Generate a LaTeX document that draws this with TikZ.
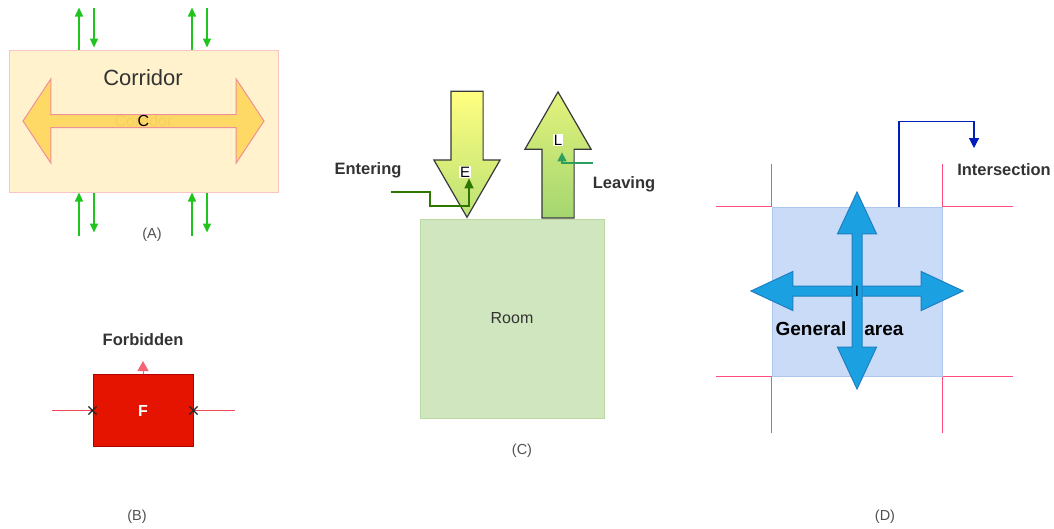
\documentclass[tikz,border=0pt]{standalone}
\usepackage{fontspec}
\setmainfont{Liberation Sans}
\usepackage{tikz}
\usetikzlibrary{arrows.meta,positioning,shapes.arrows,shapes.misc,calc}
\definecolor{corrfill}{HTML}{FFF2CC}
\definecolor{corrline}{HTML}{F8C4C4}
\definecolor{arrfill}{HTML}{FFD966}
\definecolor{arrline}{HTML}{F0909A}
\definecolor{pathgreen}{HTML}{1FC41F}
\definecolor{forbred}{HTML}{E51400}
\definecolor{forbline}{HTML}{B20000}
\definecolor{wallred}{HTML}{F04A5A}
\definecolor{roomfill}{HTML}{D0E6BE}
\definecolor{roomline}{HTML}{BAD9A3}
\definecolor{doortop}{HTML}{FFFF80}
\definecolor{doorbot}{HTML}{A4D670}
\definecolor{doorline}{HTML}{36393D}
\definecolor{entgreen}{HTML}{2D7600}
\definecolor{levgreen}{HTML}{2E9E5E}
\definecolor{genfill}{HTML}{CADBF8}
\definecolor{genline}{HTML}{AEC5EE}
\definecolor{gridpink}{HTML}{FF4D7E}
\definecolor{crossfill}{HTML}{1BA1E2}
\definecolor{crossline}{HTML}{1F7FC0}
\definecolor{isecblue}{HTML}{001DBC}
\definecolor{txt}{HTML}{333333}
\definecolor{capgray}{HTML}{505050}
\tikzset{
  lbl/.style={font=\fontsize{16.5}{19}\selectfont\bfseries, text=txt, inner sep=0pt},
  caption/.style={font=\fontsize{14.5}{17}\selectfont, text=capgray, inner sep=0pt},
  corrbox/.style={rectangle, draw=corrline, fill=corrfill, line width=1pt,
    minimum width=269pt, minimum height=142pt},
  corrarrow/.style={double arrow, draw=arrline, fill=arrfill, line width=1pt,
    inner xsep=0pt, inner ysep=6pt, double arrow head extend=35.5pt,
    double arrow tip angle=113, minimum height=241pt},
  garrow/.style={draw=pathgreen, line width=1.5pt, -{Triangle[length=9pt,width=8pt]}},
  forbbox/.style={rectangle, draw=forbline, fill=forbred, line width=1pt,
    minimum width=100pt, minimum height=72pt, text=white,
    font=\fontsize{16}{19}\selectfont\bfseries},
  wall/.style={draw=wallred, line width=1pt},
  xmark/.style={cross out, draw=black!85, line width=1.2pt, minimum size=7pt, inner sep=0pt},
  warrow/.style={draw=wallred!85, line width=1pt, -{Triangle[length=10pt,width=11pt]}},
  roombox/.style={rectangle, draw=roomline, fill=roomfill, line width=1pt,
    minimum width=184pt, minimum height=199pt, text=txt,
    font=\fontsize{16}{19}\selectfont},
  doorarrow/.style={single arrow, draw=doorline, line width=1.2pt,
    inner xsep=0pt, inner ysep=15.5pt, single arrow head extend=17pt,
    single arrow tip angle=60, minimum height=126pt},
  doorlbl/.style={fill=white, inner sep=1pt, text=black,
    font=\fontsize{15}{17}\selectfont},
  entconn/.style={draw=entgreen, line width=1.2pt, -{Triangle[length=10pt,width=9pt]}},
  levconn/.style={draw=levgreen, line width=1.2pt, -{Triangle[length=9pt,width=9pt]}},
  genbox/.style={rectangle, draw=genline, fill=genfill, line width=1pt,
    minimum width=170pt, minimum height=169pt},
  gridline/.style={draw=gridpink, line width=1pt},
  crossarrow/.style={double arrow, draw=crossline, fill=crossfill, line width=1pt,
    inner xsep=0pt, inner ysep=4.5pt, double arrow head extend=14.5pt,
    double arrow tip angle=50},
  isecconn/.style={draw=isecblue, line width=1.2pt, -{Triangle[length=10pt,width=10pt]}},
}
\begin{document}
\begin{tikzpicture}[x=1pt, y=-1pt]
\useasboundingbox (0,0) rectangle (1054,528);

% Corridor (A)
\node[corrbox] (corr) at (143.5,121) {};
\node[corrarrow] (corr-arr) at (143.5,121) {};
\node[font=\fontsize{16}{19}\selectfont, text=txt, text opacity=0.05] (corr-ghost) at (143.5,121) {Corridor};
\node[font=\fontsize{16}{19}\selectfont, text=black, inner sep=0pt] (corr-c) at (143.5,121) {C};
\node[font=\fontsize{22}{26}\selectfont, text=txt, inner sep=0pt] (corr-title) at (143,78) {Corridor};
\foreach \dx in {70.5,183.5} {
  \draw[garrow] ([xshift=\dx pt]corr.north west) -- ++(0,-42);
  \draw[garrow] ([xshift=\dx pt+15pt]corr.north west) ++(0,-42) -- ++(0,40);
  \draw[garrow] ([xshift=\dx pt]corr.south west) ++(0,43) -- ++(0,-43);
  \draw[garrow] ([xshift=\dx pt+15pt]corr.south west) -- ++(0,40);
}
\node[caption] (cap-a) at (152,235) {(A)};

% Forbidden (B)
\node[forbbox] (forb) at (143,410.5) {F};
\coordinate (forb-l0) at (52,410.5);
\coordinate (forb-r0) at (235,410.5);
\draw[wall] (forb-l0) -- (forb.west);
\draw[wall] (forb.east) -- (forb-r0);
\node[xmark] (forb-xl) at (forb.west) {};
\node[xmark] (forb-xr) at (forb.east) {};
\draw[warrow] (forb.north) -- ++(0,-13);
\node[lbl] (forbidden) at (143,340) {Forbidden};
\node[caption] (cap-b) at (137,517) {(B)};

% Room (C)
\node[roombox] (room) at (512,318.5) {Room};
\node[doorarrow, rotate=-90, anchor=tip, top color=doortop, bottom color=doorbot!75!doortop] (enter) at ([xshift=-45pt]room.north) {};
\node[doorarrow, rotate=90, anchor=tail, top color=doortop!70!doorbot, bottom color=doorbot] (leave) at ([xshift=46pt]room.north) {};
\node[doorlbl] (enter-lbl) at (465,172) {E};
\node[doorlbl] (leave-lbl) at (558,140) {L};
\node[lbl] (entering) at (368,170) {Entering};
\node[lbl] (leaving) at (624,184) {Leaving};
\coordinate (ent0) at (391,192);
\coordinate (lev0) at (593,163);
\draw[entconn] (ent0) -- ++(39,0) -- ++(0,14) -| ([xshift=4pt]enter-lbl.south);
\draw[levconn] (lev0) -| ([xshift=4pt, yshift=-6pt]leave-lbl.south);
\node[caption] (cap-c) at (522,451) {(C)};

% General area (D)
\node[genbox] (gen) at (857,291.5) {};
\foreach \c/\vx/\vy in {north west/-56/-43, north east/70/-43, south west/-56/56, south east/70/56} {
  \draw[gridline] (gen.\c) -- ++(0,\vy);
  \draw[gridline] (gen.\c) -- ++(\vx,0);
}
\node[crossarrow, minimum height=212pt] (gen-h) at (857,291) {};
\node[crossarrow, minimum height=197pt, rotate=90] (gen-v) at (857,290.5) {};
\node[font=\fontsize{15}{17}\selectfont, inner sep=0pt] (gen-i) at (857,291) {I};
\node[font=\fontsize{19}{22}\selectfont\bfseries, inner sep=0pt] (gen-lbl) at (839.5,329) {General\hspace{18pt}area};
\coordinate (isec0) at (974,148);
\draw[isecconn] ([xshift=42pt]gen.north) -- ++(0,-85) -| (isec0);
\node[lbl] (isec) at (1004,170) {Intersection};
\node[caption] (cap-d) at (885,517) {(D)};
\end{tikzpicture}
\end{document}
